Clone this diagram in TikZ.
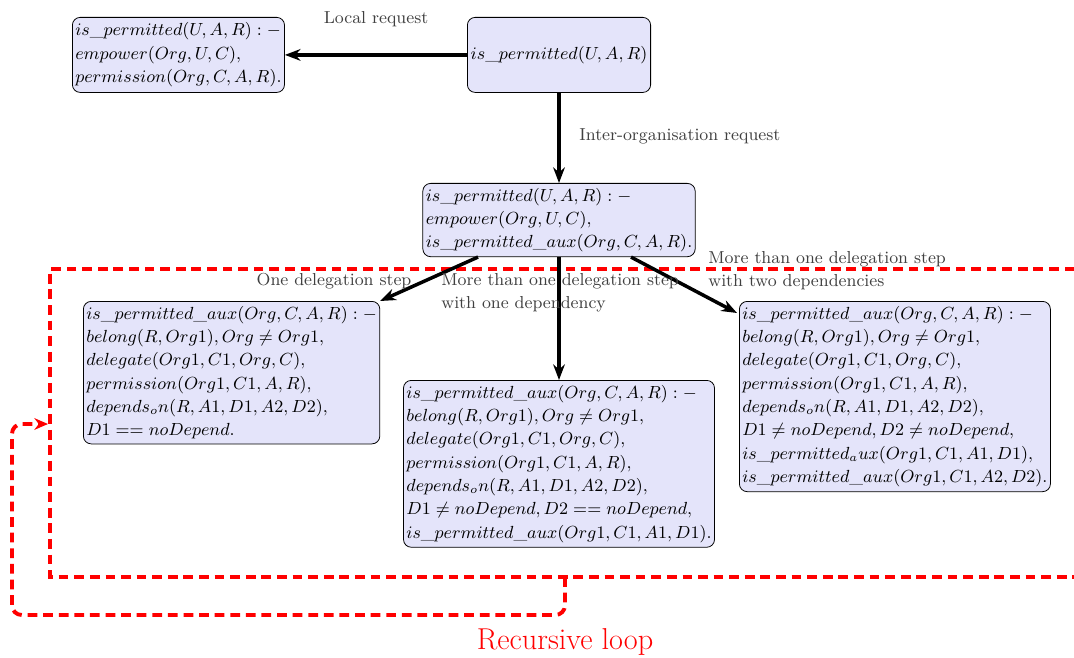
\documentclass[tikz,border=0pt]{standalone}
\usetikzlibrary{arrows.meta,calc}
\definecolor{boxfill}{RGB}{228,228,250}
\begin{document}
\begin{tikzpicture}[x=0.513pt,y=-0.513pt,
  rule/.style={draw=black,fill=boxfill,rounded corners=4pt,align=left,
    inner xsep=1.5pt,inner ysep=2.3pt,anchor=north west,font=\fontsize{9.1pt}{12pt}\selectfont},
  flow/.style={line width=1.8pt,-{Stealth[length=8pt,width=6pt]}},
  lbl/.style={text=black!75,inner sep=0pt,align=left,font=\fontsize{8.9pt}{12pt}\selectfont},
  loopline/.style={red,line width=2pt,dash pattern=on 5pt off 3pt}]
\useasboundingbox (0,0) rectangle (1074,657);

% clause boxes
\node[rule,minimum height=38.5pt] (local) at (72,17) {$is\_permitted(U,A,R):-$\\$empower(Org,U,C),$\\$permission(Org,C,A,R).$};
\node[rule,anchor=north,minimum width=94pt,minimum height=38.5pt] (query) at (559,17) {$is\_permitted(U,A,R)$};
\node[rule,anchor=north] (inter) at (559,183) {$is\_permitted(U,A,R):-$\\$empower(Org,U,C),$\\$is\_permitted\_aux(Org,C,A,R).$};
\node[rule] (one) at (83,301) {$is\_permitted\_aux(Org,C,A,R):-$\\$belong(R,Org1),Org\neq Org1,$\\$delegate(Org1,C1,Org,C),$\\$permission(Org1,C1,A,R),$\\$depends_on(R,A1,D1,A2,D2),$\\$D1 == noDepend.$};
\node[rule,anchor=north] (dep1) at (559,380) {$is\_permitted\_aux(Org,C,A,R):-$\\$belong(R,Org1),Org\neq Org1,$\\$delegate(Org1,C1,Org,C),$\\$permission(Org1,C1,A,R),$\\$depends_on(R,A1,D1,A2,D2),$\\$D1\neq noDepend, D2 == noDepend,$\\$is\_permitted\_aux(Org1,C1,A1,D1).$};
\node[rule] (dep2) at (739,301) {$is\_permitted\_aux(Org,C,A,R):-$\\$belong(R,Org1),Org\neq Org1,$\\$delegate(Org1,C1,Org,C),$\\$permission(Org1,C1,A,R),$\\$depends_on(R,A1,D1,A2,D2),$\\$D1\neq noDepend, D2\neq noDepend,$\\$is\_permitted_aux(Org1,C1,A1,D1),$\\$is\_permitted\_aux(Org1,C1,A2,D2).$};

% recursion region
\draw[loopline] (1090,269) -- (50,269) -- (50,577) -- (1090,577);
\coordinate (loopstart) at (565,577);
\coordinate (loopend) at (48,424);
\draw[loopline,rounded corners=5pt,-{Stealth[length=7pt,width=6pt]}]
  (loopstart) -- (565,615) -- (12,615) -- (12,424) -- (loopend);
\node[red,font=\fontsize{15.5pt}{18pt}\selectfont,inner sep=0pt] (looplbl) at (565,642) {Recursive loop};

% connectors
\draw[flow] (query.west) -- (local.east);
\draw[flow] (query.south) -- (inter.north);
\draw[flow] ($(inter.south)+(-81,0)$) -- (one.north east);
\draw[flow] (inter.south) -- (dep1.north);
\draw[flow] ($(inter.south)+(72,0)$) -- ($(dep2.north west)+(-2,12)$);

% connector labels
\node[lbl] (l1) at (376,19) {Local request};
\node[lbl,anchor=west] (l2) at (579,136) {Inter-organisation request};
\node[lbl] (l3) at (334,281) {One delegation step};
\node[lbl,anchor=north west] (l4) at (441,273) {More than one delegation step\\with one dependency};
\node[lbl,anchor=north west] (l5) at (708,251) {More than one delegation step\\with two dependencies};
\end{tikzpicture}
\end{document}
